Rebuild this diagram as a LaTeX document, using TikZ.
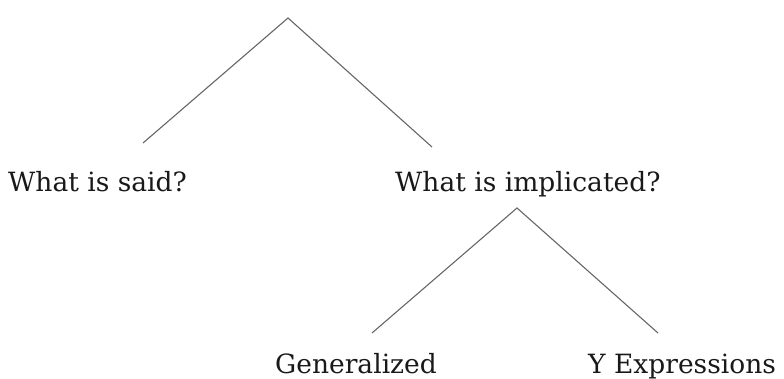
\documentclass[tikz,border=0pt]{standalone}
\usepackage{fontspec}
\setmainfont{DejaVu Serif}
\begin{document}
\begin{tikzpicture}[x=1pt,y=-1pt,
  lbl/.style={inner sep=0pt,anchor=base west,font=\fontsize{26.5}{30}\selectfont,text=black!90},
  branch/.style={draw=black!60,line width=1.1pt}]
\useasboundingbox (0,0) rectangle (784,379);
\coordinate (top) at (288,18);
\coordinate (tl) at (143,143);
\coordinate (tr) at (432,147);
\coordinate (mid) at (517,208);
\coordinate (ml) at (372,333);
\coordinate (mr) at (658,333);
\draw[branch] (tl) -- (top) -- (tr);
\draw[branch] (ml) -- (mid) -- (mr);
\node[lbl] (said) at (8,192) {What is said?};
\node[lbl] (impl) at (395,192) {What is implicated?};
\node[lbl] (gen) at (275,373) {Generalized};
\node[lbl] (yexp) at (588,373) {Y Expressions};
\end{tikzpicture}
\end{document}
